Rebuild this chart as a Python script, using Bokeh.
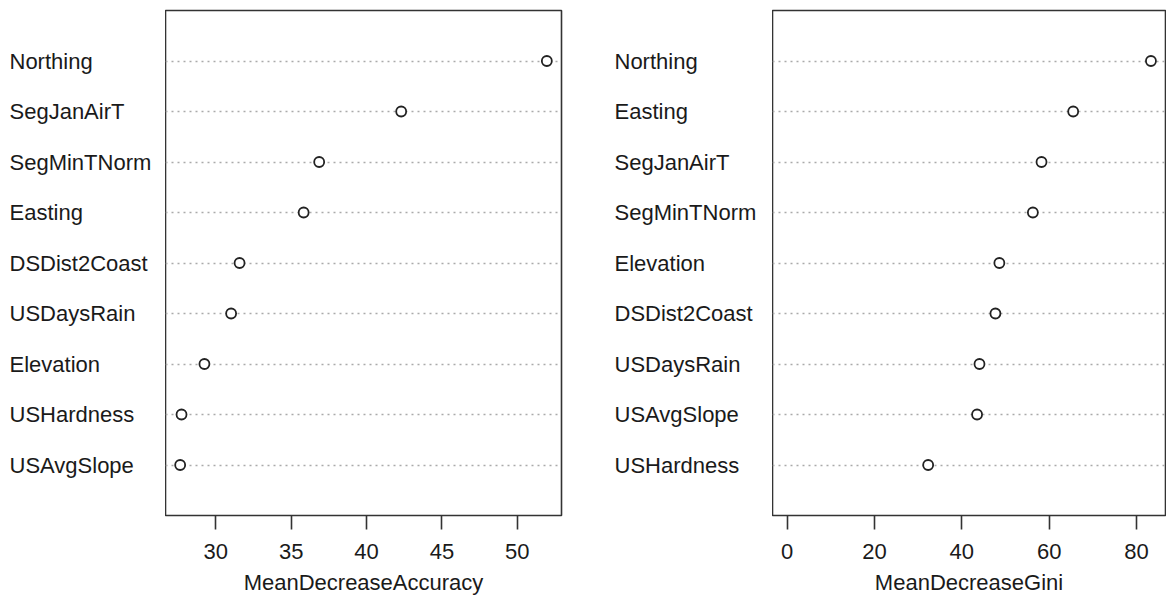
from bokeh.plotting import figure
from bokeh.layouts import row
from bokeh.models import Range1d, FixedTicker, Grid
from bokeh.core.properties import value
from bokeh.embed import file_html
from bokeh.resources import INLINE

# Variable importance from a random forest
acc_labels = ["Northing", "SegJanAirT", "SegMinTNorm", "Easting", "DSDist2Coast",
              "USDaysRain", "Elevation", "USHardness", "USAvgSlope"]
acc_values = [51.96, 42.30, 36.86, 35.83, 31.58, 31.02, 29.25, 27.73, 27.64]

gini_labels = ["Northing", "Easting", "SegJanAirT", "SegMinTNorm", "Elevation",
               "DSDist2Coast", "USDaysRain", "USAvgSlope", "USHardness"]
gini_values = [83.3, 65.5, 58.25, 56.27, 48.6, 47.7, 44.05, 43.5, 32.3]

acc_ticks = [30, 35, 40, 45, 50]
gini_ticks = [0, 20, 40, 60, 80]

FONT = "Liberation Sans"
FONT_V = value(FONT)
FS = "22px"
TXT = "#1a1a1a"
H = 597
TOP = 10
BOTTOM = 82


def extend(lo, hi, frac=0.04):
    d = (hi - lo) * frac
    return lo - d, hi + d


def label_fig(labels, width, x0):
    n = len(labels)
    p = figure(width=width, height=H, x_range=Range1d(0, width), y_range=Range1d(0, n + 1),
               x_axis_type=None, y_axis_type=None, toolbar_location=None,
               output_backend="svg", min_border_left=0, min_border_right=0,
               min_border_top=TOP, min_border_bottom=BOTTOM)
    p.outline_line_color = None
    p.grid.visible = False
    ys = [n - i for i in range(n)]
    p.text(x=[x0] * n, y=ys, text=labels, text_align="left", text_baseline="middle",
           text_font=FONT_V, text_font_size=FS, text_color=TXT)
    return p


def dot_fig(labels, values, ticks, xmin, title, width, border_right):
    n = len(labels)
    lo, hi = extend(xmin, max(values))
    p = figure(width=width, height=H, x_range=Range1d(lo, hi), y_range=Range1d(0, n + 1),
               y_axis_type=None, toolbar_location=None, output_backend="svg",
               min_border_left=0, min_border_right=border_right,
               min_border_top=TOP, min_border_bottom=BOTTOM)
    p.xgrid.visible = False
    p.outline_line_color = "#333333"
    p.outline_line_width = 1.6
    ys = [n - i for i in range(n)]
    p.add_layout(Grid(dimension=1, ticker=FixedTicker(ticks=ys),
                      grid_line_color="#aaaaaa", grid_line_dash="2 4",
                      grid_line_width=1.3))
    ax = p.xaxis[0]
    ax.ticker = FixedTicker(ticks=ticks)
    ax.axis_line_color = None
    ax.major_tick_line_color = "#333333"
    ax.major_tick_line_width = 1.6
    ax.major_tick_out = 14
    ax.major_tick_in = 0
    ax.minor_tick_line_color = None
    ax.major_label_text_font = FONT
    ax.major_label_text_font_size = FS
    ax.major_label_text_color = TXT
    ax.major_label_standoff = 14
    ax.axis_label = title
    ax.axis_label_text_font = FONT
    ax.axis_label_text_font_size = FS
    ax.axis_label_text_font_style = "normal"
    ax.axis_label_text_color = TXT
    ax.axis_label_standoff = 8
    p.scatter(x=values, y=ys, marker="circle", size=10, fill_color="white",
              line_color="#222222", line_width=1.8)
    return p


l1 = label_fig(acc_labels, 165, 9)
p1 = dot_fig(acc_labels, acc_values, acc_ticks, min(acc_values), "MeanDecreaseAccuracy", 435, 39)
l2 = label_fig(gini_labels, 172, 14)
p2 = dot_fig(gini_labels, gini_values, gini_ticks, 0, "MeanDecreaseGini", 394, 1)

layout = row(l1, p1, l2, p2, spacing=0)
open("out.html", "w").write(file_html(layout, INLINE))
